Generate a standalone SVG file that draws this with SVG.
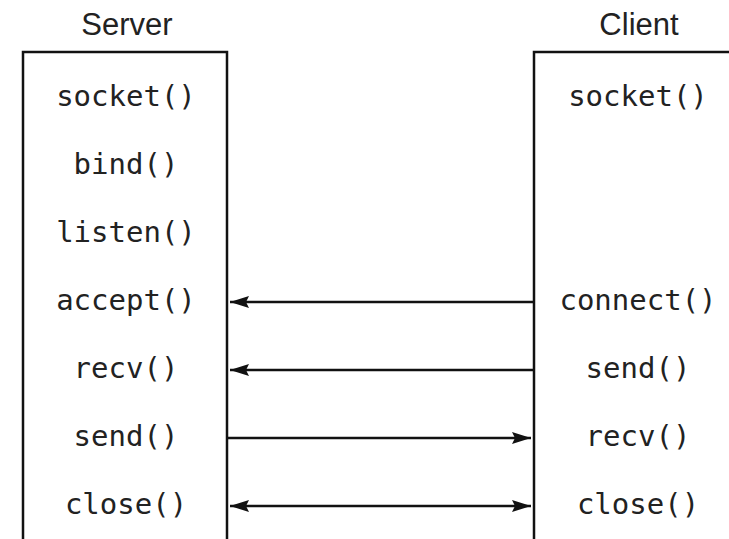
<svg xmlns="http://www.w3.org/2000/svg" width="729" height="539" viewBox="0 0 729 539">
<style>
.hdr{font-family:"Liberation Sans",Arial,sans-serif;font-size:31px;fill:#222;text-anchor:middle}
.fn{font-family:"DejaVu Sans Mono",monospace;font-size:29px;fill:#222;text-anchor:middle}
.box{fill:none;stroke:#111;stroke-width:2.5}
.conn{stroke:#111;stroke-width:2.5;fill:none}
</style>
<defs>
<marker id="ah" viewBox="0 0 19 12" refX="19" refY="6" markerWidth="19" markerHeight="12" markerUnits="userSpaceOnUse" orient="auto-start-reverse">
<path d="M0,0 L19,6 L0,12 L3,6 Z" fill="#111"/>
</marker>
</defs>
<rect width="729" height="539" fill="#fff"/>
<g id="server">
<text class="hdr" x="127" y="35">Server</text>
<path class="box" d="M23,539 V52 H227 V539"/>
<text class="fn" x="126" y="106">socket()</text>
<text class="fn" x="126" y="174">bind()</text>
<text class="fn" x="126" y="242">listen()</text>
<text class="fn" x="126" y="310">accept()</text>
<text class="fn" x="126" y="378">recv()</text>
<text class="fn" x="126" y="446">send()</text>
<text class="fn" x="126" y="514">close()</text>
</g>
<g id="client">
<text class="hdr" x="639" y="35">Client</text>
<path class="box" d="M534,539 V52 H729"/>
<text class="fn" x="638" y="106">socket()</text>
<text class="fn" x="638" y="310">connect()</text>
<text class="fn" x="638" y="378">send()</text>
<text class="fn" x="638" y="446">recv()</text>
<text class="fn" x="638" y="514">close()</text>
</g>
<g id="connectors">
<line class="conn" x1="534" y1="302" x2="230" y2="302" marker-end="url(#ah)"/>
<line class="conn" x1="534" y1="370" x2="230" y2="370" marker-end="url(#ah)"/>
<line class="conn" x1="227" y1="438" x2="531" y2="438" marker-end="url(#ah)"/>
<line class="conn" x1="230" y1="506" x2="531" y2="506" marker-start="url(#ah)" marker-end="url(#ah)"/>
</g>
</svg>
